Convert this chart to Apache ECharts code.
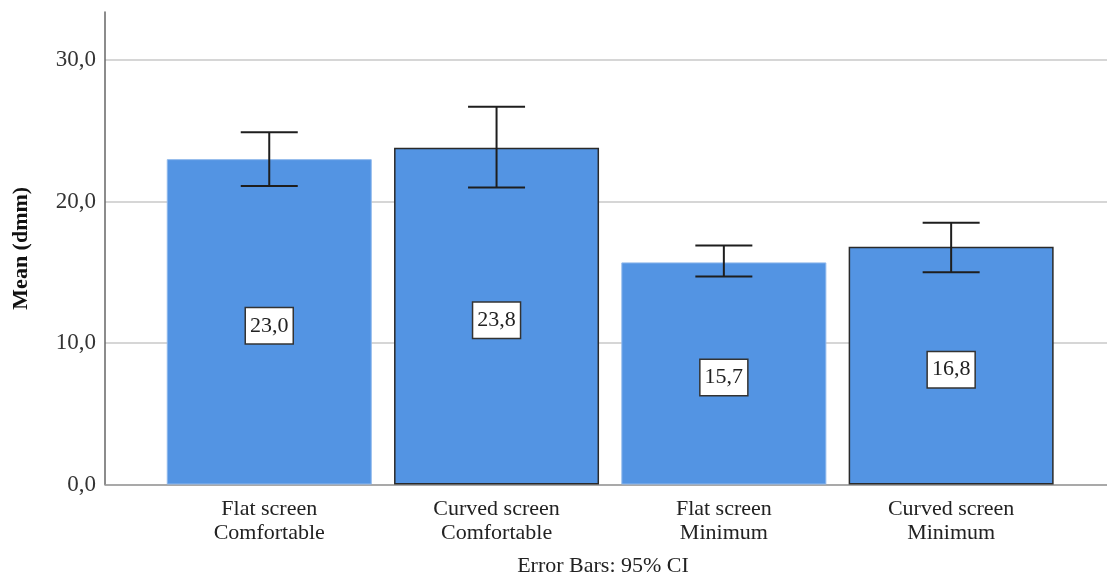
<!DOCTYPE html>
<html>
<head>
<meta charset="utf-8">
<script src="https://cdn.jsdelivr.net/npm/echarts@6/dist/echarts.min.js"></script>
<style>
  html, body { margin: 0; padding: 0; background: #fff; }
  #chart { width: 1107px; height: 578px; }
</style>
</head>
<body>
<div id="chart"></div>
<script>
// Mean viewing distance per screen type and setting, with 95% CI error bars
const categories = [
  'Flat screen\nComfortable',
  'Curved screen\nComfortable',
  'Flat screen\nMinimum',
  'Curved screen\nMinimum'
];
const means = [23.0, 23.8, 15.7, 16.8];
const ciLow = [21.1, 21.0, 14.7, 15.0];
const ciHigh = [24.9, 26.7, 16.9, 18.5];
const outlined = [false, true, false, true];
const yTicks = [0, 10, 20, 30];

const FONT = '"Liberation Serif", "Times New Roman", serif';
const fmt = v => v.toFixed(1).replace('.', ',');

const yMax = 33.4;
const gridTop = 12, gridBottom = 93.5;

const chart = echarts.init(document.getElementById('chart'), null, { renderer: 'canvas' });

chart.setOption({
  animation: false,
  backgroundColor: '#ffffff',
  grid: [
    { left: 105, right: 0, top: gridTop, bottom: gridBottom, containLabel: false, outerBoundsMode: 'none' },
    { left: 155.6, right: 42.2, top: gridTop, bottom: gridBottom, containLabel: false, outerBoundsMode: 'none' }
  ],
  xAxis: [
    {
      gridIndex: 0, type: 'value', min: 0, max: 1,
      axisLine: { show: true, lineStyle: { color: '#9a9a9a', width: 1.5 } },
      axisTick: { show: false }, axisLabel: { show: false }, splitLine: { show: false }
    },
    {
      gridIndex: 1, type: 'category', data: categories,
      axisLine: { show: false }, axisTick: { show: false },
      axisLabel: {
        margin: 13, fontFamily: FONT, fontSize: 22, lineHeight: 24, color: '#222'
      }
    }
  ],
  yAxis: [
    {
      gridIndex: 0, type: 'value', min: 0, max: yMax, interval: 10,
      name: 'Mean (dmm)', nameLocation: 'middle', nameGap: 73,
      nameTextStyle: { fontFamily: FONT, fontSize: 22, fontWeight: 'bold', color: '#111' },
      axisLine: { show: true, lineStyle: { color: '#666', width: 1.5 } },
      axisTick: { show: false },
      axisLabel: {
        margin: 9, fontFamily: FONT, fontSize: 23, color: '#333',
        formatter: v => (yTicks.includes(v) ? fmt(v) : '')
      },
      splitLine: {
        show: true,
        lineStyle: { color: ['#d6d6d6', '#d6d6d6', '#d6d6d6', '#d6d6d6', 'rgba(0,0,0,0)'], width: 2 }
      }
    },
    { gridIndex: 1, type: 'value', min: 0, max: yMax, show: false }
  ],
  series: [
    {
      type: 'bar',
      xAxisIndex: 1, yAxisIndex: 1,
      barWidth: 205,
      data: means.map((m, i) => ({
        value: m,
        itemStyle: outlined[i]
          ? { color: '#5394e3', borderColor: '#2a2a2a', borderWidth: 1.5 }
          : { color: '#5394e3', borderColor: '#8fb8ec', borderWidth: 1 }
      })),
      label: {
        show: true, position: 'inside', offset: [0, 4],
        formatter: p => fmt(p.value),
        fontFamily: FONT, fontSize: 22, color: '#222',
        backgroundColor: '#ffffff', borderColor: '#333', borderWidth: 1.5,
        padding: [7, 4, 6, 4]
      },
      z: 2
    },
    {
      type: 'custom',
      xAxisIndex: 1, yAxisIndex: 1,
      data: means.map((m, i) => [i, ciLow[i], ciHigh[i]]),
      renderItem: (params, api) => {
        const x = api.value(0);
        const lo = api.coord([x, api.value(1)]);
        const hi = api.coord([x, api.value(2)]);
        const half = 28.5;
        const style = { stroke: '#1e1e1e', lineWidth: 2 };
        return {
          type: 'group',
          children: [
            { type: 'line', shape: { x1: hi[0], y1: hi[1], x2: lo[0], y2: lo[1] }, style },
            { type: 'line', shape: { x1: hi[0] - half, y1: hi[1], x2: hi[0] + half, y2: hi[1] }, style },
            { type: 'line', shape: { x1: lo[0] - half, y1: lo[1], x2: lo[0] + half, y2: lo[1] }, style }
          ]
        };
      },
      z: 3
    }
  ],
  graphic: [
    {
      type: 'text', x: 603, y: 566,
      style: {
        text: 'Error Bars: 95% CI', fontFamily: FONT, fontSize: 22, fill: '#222',
        align: 'center', verticalAlign: 'middle'
      }
    }
  ]
});
</script>
</body>
</html>
